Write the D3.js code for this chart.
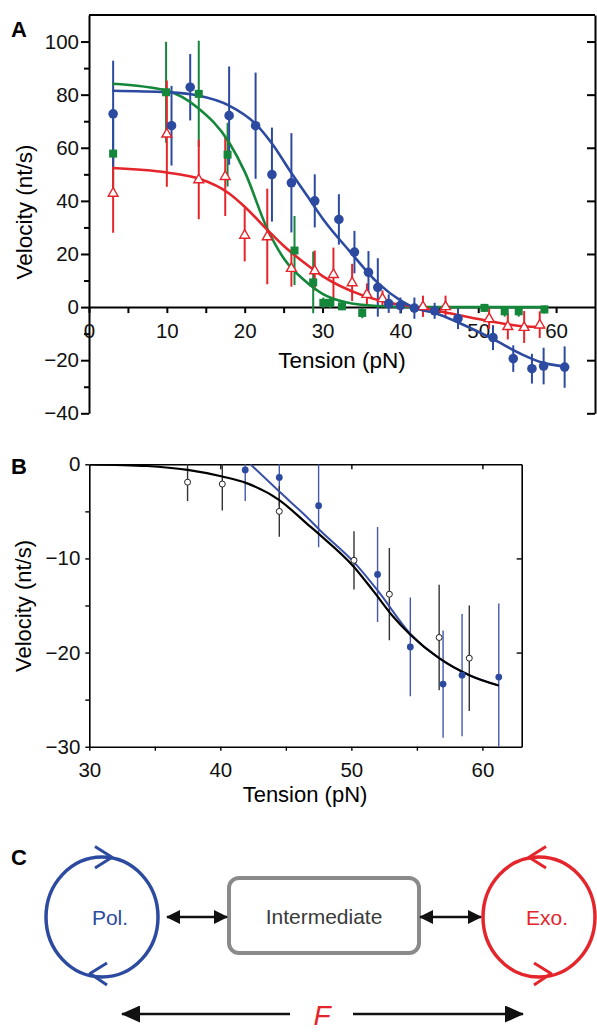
<!DOCTYPE html>
<html>
<head>
<meta charset="utf-8">
<script src="https://cdn.jsdelivr.net/npm/d3@7"></script>
<style>
  body { margin: 0; background: #fff; }
  svg { display: block; font-family: "Liberation Sans", Arial, Helvetica, sans-serif; }
  .axis path, .axis line { stroke: #000; }
  .axis text { fill: #111; }
</style>
</head>
<body>
<svg id="fig" width="597" height="1032"></svg>
<script>
// Panel A: [tension, velocity, error]
var blueA = [[3.1,72.8,20],[10.6,68.3,15],[13.0,82.8,12.5],[18.0,72.1,18.5],[21.4,68.3,20],[23.5,49.9,17.7],
  [26.0,46.8,18.7],[29.0,40.0,10],[32.1,33.0,9.5],[34.1,20.7,8],[35.9,13.1,8],[37.1,7.4,11],[38.5,1.3,3.5],
  [40.0,0.6,3],[41.8,-0.4,4],[44.4,-1.4,3],[47.4,-4.3,4],[51.9,-11.5,4.7],[54.5,-19.4,5],[56.9,-23.2,5.6],
  [58.4,-22.2,6.9],[61.1,-22.6,7.8]];
var greenA = [[3.1,57.8,15],[9.9,80.9,19],[14.1,80.3,20],[17.8,57.4,12],[26.4,21.3,13],[28.8,9.3,11.6],
  [30.1,1.6,2],[31.0,1.6,2],[32.5,0.3,1.5],[35.1,-2.2,2],[50.8,-0.3,1.5],[53.4,-1.6,2],[55.2,-1.6,2],[58.5,-0.9,1.5]];
var redA = [[3.1,43,15],[10.0,65.3,20],[14.1,48.1,15],[17.5,49.3,15],[20.0,27.2,10],[22.9,26.6,18],[26.0,14.7,7],
  [29.0,13.8,7.5],[31.4,12.4,10],[33.8,9.3,7],[35.7,4.9,4],[37.7,3.3,3],[42.9,0.3,4],[45.8,0.3,4],
  [51.4,-4.2,4],[53.8,-7.2,5],[55.9,-7.5,6],[57.9,-6.6,5]];
// fitted curves
var blueFitA = [[3,81.5],[10,80.9],[14,79.7],[18,75.9],[21.4,69],[23.5,61.6],[26,50.5],[28,42],[30.1,33],
  [33.5,21],[37.1,9.1],[40,2.5],[42,-0.5],[44.6,-2.4],[47.5,-5.9],[51.8,-11.9],[55.6,-17.8],[58.2,-20.9],[61.2,-22.4]];
var greenFitA = [[3,84.1],[10,81.5],[14,75],[18,62],[20,51],[22.9,29.5],[25.1,18],[27.7,10],[30,5],[33,1.8],
  [37,0.4],[42,0],[59,0]];
var redFitA = [[3,52.4],[10,50.7],[14.1,48.4],[18,42.8],[20,37.8],[22.9,29.1],[25.1,22.8],[27.7,16.6],[30.1,11.5],
  [34.9,4.7],[38.6,1.6],[42.8,-0.3],[47.1,-2.8],[51.4,-5.3],[55.6,-7.2],[58.5,-7.6]];
var xTicksA = d3.range(0, 65, 5);
var yTicksA = d3.range(-40, 101, 10);

// Panel B
var openB = [[37.5,-1.9,2],[40.15,-2.1,2.8],[44.5,-5.0,2.7],[50.2,-10.2,3.1],[52.9,-13.8,4.9],[56.7,-18.4,5.6],[59.0,-20.6,5.6]];
var blueB = [[41.9,-0.6,3.3],[44.5,-1.4,3],[47.5,-4.4,4.4],[52.0,-11.7,5.05],[54.5,-19.4,5.25],[57.0,-23.35,5.7],
  [58.45,-22.4,6.5],[61.25,-22.6,7.8]];
var blackFitB = [[30,0],[34.4,-0.18],[37.5,-0.6],[40.15,-1.3],[42,-2.0],[44.5,-3.8],[46.6,-6.3],[47.6,-7.5],
  [50.2,-10.9],[51.7,-13.5],[53.2,-16.2],[54.5,-18.1],[56.7,-20.6],[59,-22.4],[61.25,-23.5]];
var blueFitB = [[42.3,0],[44.5,-2.9],[46.6,-5.6],[47.6,-7.0],[50.2,-10.4],[52,-13.4],[54.5,-18.0],[56.7,-20.6],
  [59,-22.4],[61.25,-23.5]];
var xTicksB = d3.range(30, 61, 5);
var yTicksB = d3.range(-30, 1, 5);

var BLUE = "#2c4aa0", GREEN = "#15873b", RED = "#e4252b";
var svg = d3.select("#fig");

function panelLetter(t, x, y) {
  svg.append("text").attr("x", x).attr("y", y).attr("font-size", 22).attr("font-weight", "bold").text(t);
}

// ---------- panel A ----------
var xA = d3.scaleLinear().domain([0, 65]).range([89, 595]);
var yA = d3.scaleLinear().domain([-40, 110]).range([413.3, 15]);
var gA = svg.append("g");

gA.append("g").attr("class", "axis").attr("transform", "translate(89,0)")
  .call(d3.axisLeft(yA).tickValues(yTicksA.filter(function(v) { return v % 20 === 0; }))
    .tickSize(8).tickSizeOuter(0).tickPadding(2))
  .call(function(g) {
    g.select(".domain").attr("stroke-width", 2);
    g.selectAll(".tick line").attr("stroke-width", 2);
    g.selectAll("text").attr("font-size", 20.5);
  });
gA.append("g").attr("class", "axis").attr("transform", "translate(89,0)")
  .call(d3.axisLeft(yA).tickValues(yTicksA.filter(function(v) { return v % 20 !== 0; }))
    .tickSize(5).tickSizeOuter(0).tickFormat(""))
  .call(function(g) { g.select(".domain").remove(); g.selectAll(".tick line").attr("stroke-width", 2); });
// right side, ticks inward
gA.append("g").attr("class", "axis").attr("transform", "translate(595,0)")
  .call(d3.axisLeft(yA).tickValues(yTicksA.filter(function(v) { return v % 20 === 0 && v !== 0; }))
    .tickSize(8).tickSizeOuter(0).tickFormat(""))
  .call(function(g) { g.select(".domain").attr("stroke-width", 2); g.selectAll(".tick line").attr("stroke-width", 2); });
gA.append("line").attr("x1", 89).attr("x2", 595).attr("y1", 15).attr("y2", 15)
  .attr("stroke", "#000").attr("stroke-width", 2);
// x axis through zero
gA.append("g").attr("class", "axis").attr("transform", "translate(0," + yA(0) + ")")
  .call(d3.axisBottom(xA).tickValues(xTicksA).tickSize(6).tickSizeOuter(0).tickPadding(10)
    .tickFormat(function(v) { return v % 10 === 0 ? v : ""; }))
  .call(function(g) {
    g.select(".domain").attr("stroke-width", 2);
    g.selectAll(".tick line").attr("stroke-width", 2);
    g.selectAll("text").attr("font-size", 20.5);
  });

gA.append("text").attr("x", 342).attr("y", 368).attr("text-anchor", "middle")
  .attr("font-size", 22.5).text("Tension (pN)");
gA.append("text").attr("transform", "translate(32,212) rotate(-90)").attr("text-anchor", "middle")
  .attr("font-size", 22.5).text("Velocity (nt/s)");
panelLetter("A", 11, 37);

var lineA = d3.line().x(function(d) { return xA(d[0]); }).y(function(d) { return yA(d[1]); })
  .curve(d3.curveMonotoneX);

function errBars(g, data, xs, ys, color, w) {
  g.selectAll(null).data(data).enter().append("line")
    .attr("x1", function(d) { return xs(d[0]); }).attr("x2", function(d) { return xs(d[0]); })
    .attr("y1", function(d) { return ys(d[1] + d[2]); }).attr("y2", function(d) { return ys(d[1] - d[2]); })
    .attr("stroke", color).attr("stroke-width", w);
}

errBars(gA, greenA, xA, yA, GREEN, 2);
errBars(gA, redA, xA, yA, RED, 2);
errBars(gA, blueA, xA, yA, BLUE, 2);

[[greenFitA, GREEN], [redFitA, RED], [blueFitA, BLUE]].forEach(function(c) {
  gA.append("path").datum(c[0]).attr("d", lineA).attr("fill", "none")
    .attr("stroke", c[1]).attr("stroke-width", 2.6);
});

gA.selectAll(null).data(greenA).enter().append("rect")
  .attr("x", function(d) { return xA(d[0]) - 4; }).attr("y", function(d) { return yA(d[1]) - 4; })
  .attr("width", 8).attr("height", 8).attr("fill", GREEN);
gA.selectAll(null).data(redA).enter().append("path")
  .attr("d", d3.symbol().type(d3.symbolTriangle).size(42))
  .attr("transform", function(d) { return "translate(" + xA(d[0]) + "," + (yA(d[1]) + 0.5) + ")"; })
  .attr("fill", "#fff").attr("stroke", RED).attr("stroke-width", 1.4);
gA.selectAll(null).data(blueA).enter().append("circle")
  .attr("cx", function(d) { return xA(d[0]); }).attr("cy", function(d) { return yA(d[1]); })
  .attr("r", 4.8).attr("fill", BLUE);

// ---------- panel B ----------
var xB = d3.scaleLinear().domain([30, 63]).range([89.3, 521.7]);
var yB = d3.scaleLinear().domain([-30, 0]).range([746.7, 464.3]);
var gB = svg.append("g");

svg.append("clipPath").attr("id", "clipB").append("rect")
  .attr("x", 89.3).attr("y", 464.3).attr("width", 521.7 - 89.3).attr("height", 746.7 - 464.3);

gB.append("g").attr("class", "axis").attr("transform", "translate(0,746.7)")
  .call(d3.axisBottom(xB).tickValues(xTicksB).tickSize(4).tickSizeOuter(0).tickPadding(11.5)
    .tickFormat(function(v) { return v % 10 === 0 ? v : ""; }))
  .call(function(g) {
    g.select(".domain").attr("stroke-width", 1.6);
    g.selectAll(".tick line").attr("stroke-width", 1.4);
    g.selectAll("text").attr("font-size", 20.5);
  });
gB.append("g").attr("class", "axis").attr("transform", "translate(89.3,0)")
  .call(d3.axisLeft(yB).tickValues(yTicksB).tickSize(4).tickSizeOuter(0).tickPadding(5)
    .tickFormat(function(v) { return v % 10 === 0 ? d3.format("d")(v) : ""; }))
  .call(function(g) {
    g.select(".domain").attr("stroke-width", 1.6);
    g.selectAll(".tick line").attr("stroke-width", 1.4);
    g.selectAll("text").attr("font-size", 20.5);
  });
gB.append("g").attr("class", "axis").attr("transform", "translate(0,464.3)")
  .call(d3.axisBottom(xB).tickValues([40, 50, 60]).tickSize(5).tickSizeOuter(0).tickFormat(""))
  .call(function(g) { g.select(".domain").attr("stroke-width", 1.6); g.selectAll(".tick line").attr("stroke-width", 1.4); });
gB.append("g").attr("class", "axis").attr("transform", "translate(521.7,0)")
  .call(d3.axisLeft(yB).tickValues([-10, -20]).tickSize(5).tickSizeOuter(0).tickFormat(""))
  .call(function(g) { g.select(".domain").attr("stroke-width", 1.6); g.selectAll(".tick line").attr("stroke-width", 1.4); });

gB.append("text").attr("x", 305).attr("y", 802).attr("text-anchor", "middle")
  .attr("font-size", 22).text("Tension (pN)");
gB.append("text").attr("transform", "translate(31,606) rotate(-90)").attr("text-anchor", "middle")
  .attr("font-size", 22).text("Velocity (nt/s)");
panelLetter("B", 11, 474);

var plotB = gB.append("g").attr("clip-path", "url(#clipB)");
var lineB = d3.line().x(function(d) { return xB(d[0]); }).y(function(d) { return yB(d[1]); })
  .curve(d3.curveMonotoneX);

errBars(plotB, blueB, xB, yB, "#4658ad", 1.4);
errBars(plotB, openB, xB, yB, "#333", 1.4);
plotB.append("path").datum(blueFitB).attr("d", lineB).attr("fill", "none").attr("stroke", "#3a50a6").attr("stroke-width", 2);
plotB.append("path").datum(blackFitB).attr("d", lineB).attr("fill", "none").attr("stroke", "#000").attr("stroke-width", 2.2);
plotB.selectAll(null).data(blueB).enter().append("circle")
  .attr("cx", function(d) { return xB(d[0]); }).attr("cy", function(d) { return yB(d[1]); })
  .attr("r", 3.4).attr("fill", BLUE);
plotB.selectAll(null).data(openB).enter().append("circle")
  .attr("cx", function(d) { return xB(d[0]); }).attr("cy", function(d) { return yB(d[1]); })
  .attr("r", 3).attr("fill", "#fff").attr("stroke", "#222").attr("stroke-width", 1);

// ---------- panel C ----------
var gC = svg.append("g");
panelLetter("C", 11, 865);

var defs = svg.append("defs");
defs.append("marker").attr("id", "head").attr("viewBox", "0 0 14 14").attr("refX", 13).attr("refY", 7)
  .attr("markerWidth", 14).attr("markerHeight", 14).attr("markerUnits", "userSpaceOnUse").attr("orient", "auto-start-reverse")
  .append("path").attr("d", "M0,0 L14,7 L0,14 Z").attr("fill", "#111");
defs.append("marker").attr("id", "bighead").attr("viewBox", "0 0 19 17").attr("refX", 18).attr("refY", 8.5)
  .attr("markerWidth", 19).attr("markerHeight", 17).attr("markerUnits", "userSpaceOnUse").attr("orient", "auto-start-reverse")
  .append("path").attr("d", "M0,0 L19,8.5 L0,17 Z").attr("fill", "#111");

function loop(cx, color, label, topDir) {
  gC.append("ellipse").attr("cx", cx).attr("cy", 917).attr("rx", 56).attr("ry", 60)
    .attr("fill", "none").attr("stroke", color).attr("stroke-width", 3.5);
  // chevrons on top and bottom of the loop
  var t = topDir;
  gC.append("path").attr("d", "M" + (cx + 10 * t - 17 * t) + ",846.5 L" + (cx + 10 * t) + ",857.3 L" + (cx + 10 * t - 17 * t) + ",868")
    .attr("fill", "none").attr("stroke", color).attr("stroke-width", 3).attr("stroke-linejoin", "round");
  gC.append("path").attr("d", "M" + (cx - 12 * t + 17 * t) + ",963 L" + (cx - 12 * t) + ",973.5 L" + (cx - 12 * t + 17 * t) + ",985")
    .attr("fill", "none").attr("stroke", color).attr("stroke-width", 3).attr("stroke-linejoin", "round");
  gC.append("text").attr("x", cx + 8).attr("y", 925).attr("text-anchor", "middle")
    .attr("font-size", 21).attr("fill", color).text(label);
}
loop(102, BLUE, "Pol.", 1);
loop(539, RED, "Exo.", -1);

gC.append("rect").attr("x", 229).attr("y", 878).attr("width", 190).attr("height", 75).attr("rx", 10)
  .attr("fill", "#fff").attr("stroke", "#8a8a8a").attr("stroke-width", 4);
gC.append("text").attr("x", 324).attr("y", 924).attr("text-anchor", "middle")
  .attr("font-size", 21).attr("fill", "#3a3a3a").text("Intermediate");

[[167, 227], [420, 481]].forEach(function(a) {
  gC.append("line").attr("x1", a[0]).attr("x2", a[1]).attr("y1", 917).attr("y2", 917)
    .attr("stroke", "#111").attr("stroke-width", 2.4)
    .attr("marker-start", "url(#head)").attr("marker-end", "url(#head)");
});

gC.append("line").attr("x1", 290).attr("x2", 122).attr("y1", 1014).attr("y2", 1014)
  .attr("stroke", "#111").attr("stroke-width", 2.6).attr("marker-end", "url(#bighead)");
gC.append("line").attr("x1", 353).attr("x2", 523).attr("y1", 1014).attr("y2", 1014)
  .attr("stroke", "#111").attr("stroke-width", 2.6).attr("marker-end", "url(#bighead)");
gC.append("text").attr("x", 322).attr("y", 1025).attr("text-anchor", "middle")
  .attr("font-size", 28).attr("font-style", "italic").attr("fill", RED).text("F");
</script>
</body>
</html>
